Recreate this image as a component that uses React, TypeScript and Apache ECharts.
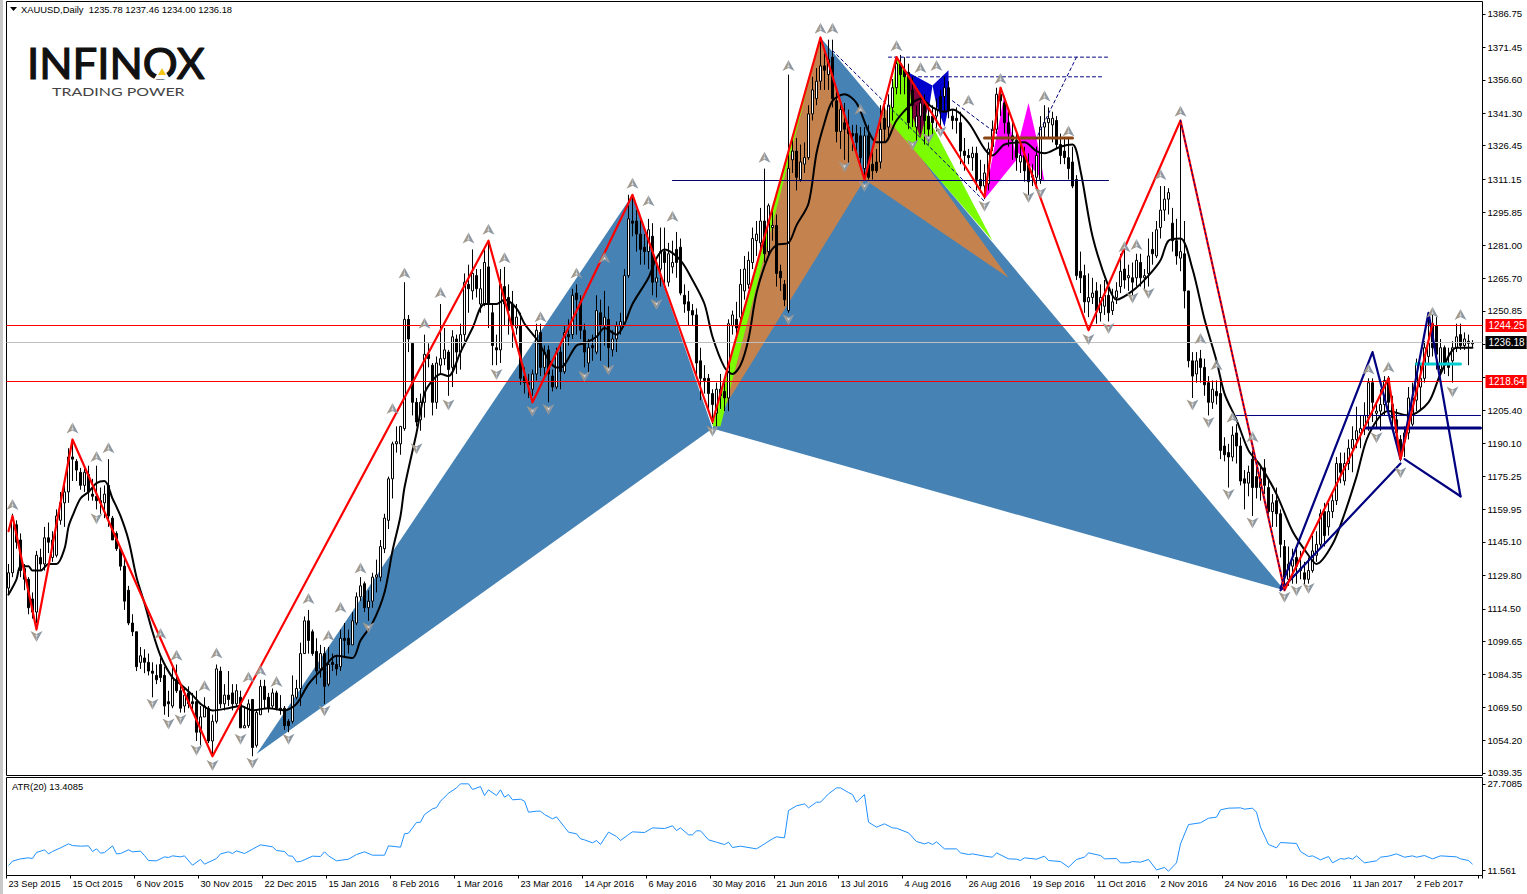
import React, { useEffect, useRef } from "react";
import * as echarts from "echarts";

// candles are [open, close, low, high], one per trading day
const candles2015a = [
[1124,1131,1121,1135],[1131,1156,1129,1158],[1153,1145,1142,1155],[1146,1132,1129,1149],[1133,1128,1123,1135],[1128,1115,1112,1129],[1119,1113,1110,1122],[1113,1139,1108,1141],
[1138,1135,1132,1142],[1135,1147,1132,1152],[1147,1145,1140,1154],[1138,1146,1136,1150],[1139,1157,1138,1160],[1155,1163,1153,1168],[1163,1168,1152,1172],[1168,1184,1163,1188],
[1184,1183,1173,1191],[1182,1178,1173,1183],[1177,1171,1169,1179],[1171,1177,1168,1179],[1176,1168,1164,1180],[1167,1166,1164,1174],[1166,1164,1160,1180],[1164,1163,1158,1170],
[1163,1167,1156,1171],[1171,1157,1152,1183],[1156,1146,1146,1157],[1149,1142,1141,1150],[1142,1134,1132,1143],[1134,1118,1114,1138],[1123,1108,1107,1125],[1108,1104,1102,1112],
[1104,1088,1086,1104],[1090,1093,1087,1097],[1092,1090,1085,1096],[1090,1086,1084,1094],[1086,1085,1074,1090],[1084,1082,1080,1089],[1089,1083,1081,1092],[1084,1070,1066,1088],
[1072,1071,1065,1077],[1070,1083,1069,1088],[1082,1077,1076,1089],[1077,1069,1067,1080],[1070,1075,1067,1078],[1076,1071,1069,1079],[1072,1071,1067,1076],[1072,1058,1054,1077],
[1058,1065,1052,1070],[1065,1070,1065,1074],[1069,1054,1053,1070],[1054,1063,1047,1066],[1063,1087,1062,1089],[1086,1071,1069,1088],[1071,1075,1068,1080],[1075,1073,1070,1086],
[1076,1071,1068,1080],[1071,1077,1070,1080],[1074,1060,1060,1077],[1060,1061,1060,1070],[1061,1071,1060,1073],[1073,1051,1047,1073],[1052,1067,1051,1068],[1066,1079,1066,1082],
];
const candles2016a = [
[1079,1073,1069,1082],[1074,1069,1067,1076],[1070,1076,1069,1078],[1076,1069,1068,1077],[1069,1068,1066,1075],[1069,1061,1059,1070],[1063,1061,1058,1064],[1063,1075,1062,1084],
[1074,1078,1073,1082],[1078,1094,1070,1099],[1094,1109,1094,1111],[1109,1100,1094,1114],[1104,1094,1093,1105],[1095,1086,1080,1101],[1087,1094,1083,1098],[1094,1079,1071,1097],
[1080,1089,1079,1097],[1090,1089,1086,1094],[1089,1087,1084,1093],[1088,1101,1086,1105],[1101,1100,1092,1108],[1101,1098,1094,1105],[1098,1109,1098,1113],[1108,1120,1107,1122],
[1120,1125,1118,1129],[1126,1115,1113,1127],[1115,1118,1109,1123],[1118,1129,1115,1131],[1129,1130,1122,1137],[1129,1143,1127,1146],[1142,1156,1140,1158],[1155,1174,1151,1175],
[1174,1190,1165,1191],[1190,1191,1186,1198],[1190,1198,1185,1198],[1197,1247,1196,1264],[1247,1238,1232,1249],[1236,1209,1203,1236],[1209,1200,1198,1211],[1201,1209,1196,1213],
[1209,1231,1202,1240],[1231,1229,1225,1236],[1226,1209,1203,1227],[1209,1227,1206,1230],[1226,1229,1222,1254],[1229,1233,1226,1243],[1232,1224,1212,1233],[1225,1239,1216,1242],
[1238,1232,1222,1240],[1232,1240,1224,1245],[1240,1264,1237,1268],[1263,1261,1250,1272],
];
const candles2016b = [
[1260,1268,1256,1279],[1267,1261,1257,1270],[1254,1261,1250,1270],[1254,1273,1253,1280],[1271,1254,1243,1283],[1250,1235,1226,1254],[1234,1233,1226,1240],[1233,1263,1227,1270],
[1262,1254,1244,1271],[1257,1251,1240,1263],[1254,1244,1234,1260],[1243,1248,1240,1254],[1244,1220,1217,1250],[1221,1218,1213,1225],[1218,1217,1211,1222],[1215,1222,1212,1224],
[1222,1242,1219,1245],[1241,1225,1221,1245],[1225,1232,1221,1235],[1233,1222,1209,1235],[1221,1216,1214,1224],[1216,1232,1215,1234],[1232,1223,1215,1235],[1223,1241,1222,1244],
[1240,1239,1235,1247],[1240,1258,1238,1261],[1259,1256,1240,1263],[1255,1242,1238,1258],[1242,1232,1225,1245],[1227,1234,1222,1238],[1235,1234,1228,1240],[1232,1251,1231,1258],
[1250,1244,1228,1256],[1244,1248,1235,1260],[1247,1234,1224,1253],[1233,1238,1230,1242],[1238,1244,1232,1246],[1244,1246,1240,1250],[1245,1267,1244,1270],[1267,1293,1266,1304],
[1292,1291,1285,1304],[1292,1286,1278,1297],[1286,1279,1272,1293],[1280,1278,1272,1286],[1278,1288,1270,1293],[1285,1264,1258,1291],[1264,1266,1257,1272],[1270,1278,1262,1289],
[1278,1273,1262,1289],[1264,1277,1262,1282],[1271,1273,1268,1283],[1279,1273,1266,1287],[1280,1259,1258,1284],[1258,1254,1250,1263],[1255,1251,1244,1260],[1251,1249,1244,1254],
[1249,1227,1220,1252],[1228,1220,1210,1234],[1220,1219,1213,1226],[1220,1213,1206,1222],[1213,1208,1199,1215],[1204,1215,1198,1218],[1215,1212,1206,1222],[1214,1211,1205,1220],
[1211,1245,1205,1247],[1244,1249,1240,1251],[1247,1243,1238,1255],[1248,1263,1246,1270],
];
const candles2016c = [
[1260,1270,1256,1276],[1263,1274,1261,1278],[1273,1284,1270,1289],[1283,1286,1276,1292],[1282,1292,1278,1298],[1292,1277,1273,1316],[1278,1299,1276,1300],[1289,1290,1283,1298],
[1290,1268,1262,1295],[1269,1266,1260,1272],[1263,1256,1253,1265],[1251,1316,1250,1359],[1320,1324,1314,1331],[1324,1312,1306,1330],[1311,1319,1310,1327],[1318,1321,1314,1328],
[1321,1341,1320,1345],[1341,1352,1338,1358],[1348,1356,1345,1362],[1356,1363,1352,1376],[1363,1361,1352,1370],[1359,1366,1352,1375],[1367,1348,1344,1375],[1347,1333,1328,1352],
[1333,1343,1325,1347],[1337,1334,1320,1346],[1335,1332,1318,1343],[1332,1331,1324,1336],[1332,1328,1322,1336],[1331,1321,1316,1335],[1316,1331,1312,1335],[1331,1312,1311,1336],
[1318,1315,1311,1326],[1319,1315,1314,1325],[1319,1334,1316,1345],[1339,1334,1328,1345],[1335,1345,1330,1350],[1344,1353,1338,1357],[1353,1364,1350,1367],[1364,1359,1350,1368],
[1361,1358,1350,1367],[1360,1337,1334,1364],[1352,1345,1335,1358],[1335,1340,1328,1345],[1340,1346,1332,1349],[1345,1338,1327,1350],[1340,1334,1327,1345],[1340,1337,1331,1345],
[1340,1343,1333,1348],[1349,1343,1335,1352],[1349,1353,1342,1358],[1353,1343,1339,1356],[1340,1338,1334,1343],[1339,1338,1332,1344],[1337,1324,1318,1342],[1324,1322,1315,1330],
[1322,1321,1318,1325],[1321,1323,1315,1326],[1323,1311,1306,1326],[1311,1308,1305,1320],[1308,1314,1302,1318],[1309,1325,1306,1328],[1326,1334,1324,1338],[1334,1350,1332,1353],
[1350,1347,1340,1352],[1346,1337,1332,1349],[1337,1332,1326,1342],[1331,1329,1320,1337],[1329,1321,1315,1332],[1319,1322,1314,1327],[1322,1315,1310,1326],[1318,1310,1304,1323],
[1312,1313,1308,1318],[1312,1322,1308,1326],[1311,1335,1309,1340],[1335,1337,1330,1345],[1337,1339,1330,1344],[1336,1339,1328,1342],[1338,1327,1325,1340],[1327,1322,1318,1332],
[1324,1321,1318,1330],[1321,1316,1311,1330],[1319,1308,1307,1326],[1311,1267,1265,1313],[1269,1266,1259,1278],[1267,1255,1250,1272],[1255,1257,1248,1268],[1257,1259,1254,1266],
[1260,1251,1245,1264],
];
const candles2016d = [
[1250,1257,1246,1263],[1253,1258,1249,1265],[1258,1250,1246,1263],[1251,1255,1249,1261],[1257,1260,1254,1264],[1262,1269,1259,1277],[1270,1265,1261,1279],[1266,1267,1260,1272],
[1266,1264,1258,1273],[1266,1274,1262,1277],[1273,1266,1262,1277],[1266,1267,1261,1270],[1268,1276,1262,1284],[1279,1277,1272,1287],[1276,1288,1275,1292],[1289,1297,1284,1308],
[1297,1302,1292,1308],[1302,1305,1295,1307],[1291,1283,1278,1298],[1283,1276,1272,1293],[1275,1278,1269,1337],[1277,1260,1252,1292],[1260,1228,1225,1260],[1228,1221,1211,1232],
[1222,1228,1218,1232],[1229,1225,1218,1233],[1225,1217,1212,1229],[1218,1209,1203,1221],[1209,1215,1206,1219],[1214,1212,1208,1219],[1213,1187,1183,1220],[1189,1185,1182,1193],
[1186,1184,1170,1190],[1184,1194,1182,1198],[1195,1189,1181,1199],[1189,1173,1171,1193],[1174,1172,1160,1178],[1172,1177,1166,1180],[1183,1170,1157,1187],[1175,1170,1165,1181],
[1170,1174,1164,1180],[1179,1171,1167,1183],[1170,1159,1156,1174],[1159,1163,1152,1167],[1164,1158,1152,1170],[1158,1144,1138,1160],[1143,1129,1124,1146],
];
const candles2017 = [
[1128,1135,1125,1143],[1134,1137,1126,1142],[1138,1134,1126,1143],[1133,1132,1128,1141],[1131,1128,1125,1136],[1128,1132,1126,1138],[1132,1141,1131,1148],[1139,1144,1136,1150],
[1144,1158,1142,1160],[1159,1148,1143,1163],[1152,1159,1148,1163],[1159,1164,1156,1168],[1164,1181,1162,1184],[1181,1177,1172,1186],[1173,1181,1171,1186],[1181,1188,1178,1192],
[1188,1192,1177,1198],[1192,1196,1188,1207],[1195,1197,1188,1203],[1198,1203,1194,1209],[1202,1218,1196,1220],[1218,1209,1200,1220],[1204,1205,1197,1209],[1205,1208,1196,1215],
[1208,1219,1203,1221],[1220,1209,1205,1221],[1208,1202,1198,1212],[1201,1195,1190,1206],[1192,1186,1182,1194],[1191,1195,1184,1198],[1195,1211,1192,1216],[1199,1211,1198,1218],
[1210,1227,1205,1229],[1216,1220,1205,1226],[1220,1234,1218,1237],[1230,1236,1226,1250],[1245,1234,1230,1249],[1244,1231,1224,1248],[1224,1234,1222,1238],[1234,1226,1222,1235],
[1227,1225,1221,1234],[1228,1234,1218,1237],[1234,1239,1232,1245],[1240,1235,1233,1245],[1235,1238,1233,1241],[1237,1236,1226,1240],[1235.78,1236.18,1234,1237.46],
];

// black moving average, [bar, price]
const movingAverage = [
[0,1121],[2,1128],[3,1134],[5,1134],[6,1132],[8,1132],[10,1135],[12,1135],[14,1142],[15,1152],[16,1157],[18,1165],[20,1168],[22,1172],[24,1173],[26,1165],[28,1157],[30,1146],[32,1129],[34,1117],[36,1104],[38,1093],[41,1083],[43,1080],[46,1075],[48,1071],[51,1068],[55,1069],[58,1070],[61,1068],[65,1069],[69,1068],[72,1071],[75,1080],[79,1088],[82,1093],[86,1092],[88,1100],[91,1108],[94,1122],[96,1141],[98,1157],[99,1170],[102,1195],[104,1213],[106,1219],[108,1222],[110,1221],[113,1232],[116,1243],[119,1254],[122,1254],[124,1256],[127,1252],[129,1245],[132,1238],[137,1225],[138,1225],[142,1235],[144,1236],[147,1239],[149,1243],[152,1240],[154,1245],[156,1254],[160,1266],[162,1275],[164,1279],[168,1274],[171,1265],[174,1254],[176,1239],[179,1225],[181,1222],[183,1226],[185,1238],[187,1259],[190,1276],[192,1281],[195,1282],[197,1290],[200,1300],[202,1323],[204,1337],[206,1347],[209,1350],[212,1346],[215,1333],[217,1328],[219,1328],[222,1338],[226,1346],[228,1348],[231,1344],[234,1342],[236,1343],[240,1337],[244,1325],[246,1322],[249,1327],[254,1328],[257,1324],[259,1323],[263,1326],[266,1327],[268,1315],[271,1285],[275,1262],[277,1256],[281,1260],[285,1267],[288,1274],[290,1283],[293,1284],[296,1270],[299,1247],[302,1228],[304,1213],[307,1201],[310,1187],[313,1180],[317,1167],[321,1150],[325,1139],[327,1135],[331,1144],[334,1158],[337,1175],[340,1194],[345,1205],[350,1203],[355,1209],[358,1222],[362,1234],[366,1234],
];

// red zigzag pivots
const zigzagA = [[0,1150],[1,1157],[7,1105],[16,1192],[51,1047],[120,1283],[131,1209],[156,1304],[176,1200],[203,1376],[214,1311],[222,1367],[244,1303],[248,1353],[270,1242],[293,1338],[319,1123],[345,1220],[348,1183],[356,1245]];
const zigzagDashed = [[293,1338],[319,1123]];

// filled harmonic patterns
const steelXAB = [[62,1048],[156,1304],[176,1197]];
const steelBCD = [[176,1197],[203,1376],[319,1123]];
const brownLeft = [[176,1198],[203,1376],[214,1311]];
const brownRight = [[214,1311],[219,1344],[250,1266]];
const limeSliver = [[176,1198],[203,1376],[178,1198]];
const limeMain = [[222,1367],[220,1338],[246,1283]];
const blueWingLeft = [[224,1361],[231,1354],[230,1342],[228,1350],[226,1355]];
const blueWingRight = [[231,1354],[235,1361],[235,1344],[234,1335],[232,1345]];
const maroonWing = [[225,1359],[226,1340],[228,1330],[230,1345]];
const magentaLeft = [[244,1302],[249,1350],[252,1320]];
const magentaRight = [[255,1346],[252,1324],[259,1310],[257,1330]];

// navy pattern lines
const navyMain = [[318,1124],[341,1232],[348,1183],[355,1250],[363,1166]];
const navyBase = [[318,1123],[348,1181]];
const navyTail = [[349,1183],[363,1166]];
const dashedDiagonalA = [[206,1370],[244,1301]];
const dashedDiagonalB = [[236,1347],[247,1332]];
const dashedTop = [[220,1367],[275,1367]];
const dashedSecond = [[226,1358],[274,1358]];
const dashedRise = [[267,1367],[257,1330]];

// horizontal levels
const blueLevel = [[166,1310.54],[275,1310.54]];
const brownLevel = [[244,1330],[266,1330]];
const cyanLevel = [[352,1226.6],[363,1226.6]];
const navyThick = [[339,1197.2],[368,1197.2]];
const navyThin = [[307,1202.98],[368,1202.98]];
const redLevels = [1244.25, 1218.64];
const bidLevel = 1236.18;

// fractal arrows, [bar, price]
const fractalUp = [[1,1162],[16,1197],[22,1184],[25,1188],[38,1103],[42,1093],[52,1094],[49,1079],[60,1083],[63,1086],[67,1081],[75,1119],[83,1115],[80,1102],[88,1133],[99,1268],[108,1259],[104,1245],[96,1206],[115,1284],[120,1288],[124,1275],[133,1248],[142,1268],[149,1275],[156,1309],[160,1301],[166,1294],[203,1380],[206,1380],[195,1363],[189,1321],[222,1372],[228,1362],[232,1363],[240,1347],[248,1357],[259,1349],[265,1333],[213,1343],[293,1342],[279,1280],[282,1281],[288,1313],[298,1238],[302,1226],[306,1202],[311,1193],[340,1224],[345,1225],[356,1250],[363,1249]];
const fractalDown = [[7,1102],[22,1156],[36,1071],[40,1062],[43,1064],[47,1050],[51,1043],[58,1055],[61,1044],[70,1055],[79,1068],[90,1106],[102,1188],[110,1208],[122,1222],[131,1205],[135,1206],[144,1221],[150,1224],[162,1254],[176,1196],[195,1247],[209,1317],[214,1308],[226,1327],[230,1330],[233,1333],[244,1299],[255,1303],[258,1305],[270,1238],[275,1243],[281,1257],[285,1259],[296,1208],[300,1200],[305,1167],[311,1154],[319,1120],[322,1123],[325,1124],[342,1193],[348,1177],[361,1214]];

// ATR(20), [bar, value]
const atr2015 = [[0,12.49],[1,13.3],[3,13.73],[5,13.92],[6,13.79],[7,14.91],[9,15.41],[10,14.66],[11,15.1],[13,15.78],[15,16.52],[16,16.21],[18,16.09],[20,16.15],[21,15.1],[22,15.59],[23,14.79],[24,14.91],[26,16.15],[27,14.66],[28,14.72],[30,15.41],[31,15.04],[33,15.16],[34,14.35],[35,13.42],[37,13.36],[39,14.1],[40,13.98],[41,14.29],[43,14.1],[44,14.29],[46,12.55],[48,13.61],[49,12.74],[52,13.79],[53,14.66],[55,15.04],[56,14.72],[57,15.22],[59,14.72],[61,15.53],[63,16.34],[66,15.97],[67,15.28],[69,15.1],[70,14.29],[71,14.23],[72,13.17],[73,13.23],[76,14.23],[78,14.17],[79,15.04],[80,14.29],[82,13.36],[85,13.67],[87,14.54],[89,15.04],[91,14.41],[94,14.41]];
const atr2016a = [[95,16.15],[98,15.9],[99,18.39],[100,18.51],[102,20.5],[103,20.56],[104,21.99],[106,23.04],[107,23.29],[108,24.47],[110,25.96],[112,26.95],[113,27.7],[115,27.7],[116,26.64],[118,27.2],[119,25.52],[120,26.58],[122,25.52],[123,26.58],[124,25.21],[125,25.71],[126,24.72],[128,24.84],[129,24.47],[130,22.42],[132,22.61],[133,22.61],[134,21.99],[136,21.18],[137,21.55],[140,18.7],[142,18.39],[143,17.46],[144,17.27],[146,16.71],[147,17.15],[148,16.4],[150,18.7],[152,17.89],[153,17.15],[155,18.26],[156,18.76],[159,18.63],[161,19.5],[164,19.38],[166,19.88],[167,19.01],[168,19.5],[170,18.2],[171,18.2],[172,18.95],[173,18.95],[175,17.27],[177,16.83],[179,16.4],[180,16.83],[181,15.84],[183,16.09],[187,15.59],[189,16.52]];
const atr2016b = [[191,17.46],[192,17.83],[194,17.64],[195,22.73],[197,23.6],[199,23.97],[200,23.23],[202,24.28],[203,24.28],[205,25.83],[207,26.95],[208,26.95],[210,26.08],[211,25.71],[212,24.28],[214,25.71],[215,20.56],[217,19.63],[219,20.25],[221,19.5],[222,19.44],[225,18.57],[227,16.96],[229,16.52],[230,16.77],[231,16.4],[232,16.9],[234,15.59],[237,15.59],[238,14.85],[240,14.54],[241,14.66],[244,14.23],[246,14.04],[247,14.85],[250,13.73],[252,13.67],[253,13.42],[254,13.92],[257,13.67],[259,14.23],[260,13.42],[263,13.23],[265,12.18],[267,13.61],[269,14.04],[270,14.85],[273,14.35],[274,13.73],[277,13.79],[278,12.99],[280,12.99],[281,13.23],[283,13.11],[285,13.61],[287,11.68],[289,12.12],[290,11.43],[292,12.99],[293,16.52],[295,20.12],[298,20.44],[300,21.3],[302,21.49],[303,22.86],[305,23.17],[308,23.23],[309,22.98],[311,23.17],[312,22.42],[313,19.63],[315,16.4],[317,15.78],[318,16.77]];
const atr2017 = [[322,16.59],[323,15.1],[325,14.17],[326,14.29],[328,13.55],[330,14.17],[331,12.99],[333,13.79],[334,13.67],[335,13.92],[336,13.67],[337,14.29],[339,12.99],[340,13.11],[342,13.36],[343,14.04],[345,14.23],[347,14.66],[349,14.04],[351,14.29],[352,14.04],[354,14.35],[356,13.73],[358,14.29],[362,14.1],[363,13.73],[365,13.42],[366,12.74]];

// axes
const priceTicks = [1386.75,1371.45,1356.60,1341.30,1326.45,1311.15,1295.85,1281.00,1265.70,1250.85,1205.40,1190.10,1175.25,1159.95,1145.10,1129.80,1114.50,1099.65,1084.35,1069.50,1054.20,1039.35];
const hiddenPriceTicks = [1235.70, 1220.55];
const atrTicks = [27.7085, 11.561];
const dateLabels = ["23 Sep 2015","15 Oct 2015","6 Nov 2015","30 Nov 2015","22 Dec 2015","15 Jan 2016","8 Feb 2016","1 Mar 2016","23 Mar 2016","14 Apr 2016","6 May 2016","30 May 2016","21 Jun 2016","13 Jul 2016","4 Aug 2016","26 Aug 2016","19 Sep 2016","11 Oct 2016","2 Nov 2016","24 Nov 2016","16 Dec 2016","11 Jan 2017","2 Feb 2017"];
const barsPerLabel = 16;
const slotCount = 369;

const FONT = '"Liberation Sans", Arial, sans-serif';

function polygonSeries(points: number[][], color: string, z: number) {
  return {
    type: "custom",
    coordinateSystem: "cartesian2d",
    silent: true,
    z,
    data: [points[0]],
    encode: { x: 0, y: 1 },
    renderItem: (_p: any, api: any) => ({
      type: "polygon",
      shape: { points: points.map((pt) => api.coord(pt)) },
      style: { fill: color },
    }),
  };
}

function lineSeries(points: number[][], color: string, width: number, z: number, dash?: number[], smooth?: number) {
  return {
    type: "line",
    data: points,
    showSymbol: false,
    silent: true,
    z,
    smooth: smooth || false,
    lineStyle: { color, width, type: dash || "solid", cap: "round", join: "round" },
  };
}

// a full-width horizontal level across the price grid, with its tag on the axis
function levelSeries(value: number, color: string, tagColor: string) {
  return {
    type: "custom",
    coordinateSystem: "cartesian2d",
    silent: true,
    z: 6,
    data: [[0, value]],
    encode: { x: 0, y: 1 },
    renderItem: (params: any, api: any) => {
      const y = Math.floor(api.coord([0, value])[1]);
      const { x, width } = params.coordSys;
      return {
        type: "group",
        children: [
          { type: "rect", shape: { x, y, width, height: 1 }, style: { fill: color } },
          {
            type: "text",
            x: x + width + 3,
            y: y + 0.5,
            style: {
              text: value.toFixed(2),
              fill: "#ffffff",
              backgroundColor: tagColor,
              padding: [2, 2, 1, 3],
              font: `10px ${FONT}`,
              verticalAlign: "middle",
            },
          },
        ],
      };
    },
  };
}

function arrowSeries(points: number[][], up: boolean) {
  const s = up ? 1 : -1;
  return {
    type: "custom",
    coordinateSystem: "cartesian2d",
    silent: true,
    z: 9,
    data: points,
    encode: { x: 0, y: 1 },
    renderItem: (_p: any, api: any) => {
      const [cx, cy] = api.coord([api.value(0), api.value(1)]);
      return {
        type: "group",
        children: [
          { type: "polygon", shape: { points: [[cx, cy - 6 * s], [cx - 6, cy + 5 * s], [cx, cy + 2 * s]] }, style: { fill: "#a39a8e" } },
          { type: "polygon", shape: { points: [[cx, cy - 6 * s], [cx + 6, cy + 5 * s], [cx, cy + 2 * s]] }, style: { fill: "#8e98a3" } },
          { type: "polygon", shape: { points: [[cx, cy - 1.5 * s], [cx - 1.5, cy + 1.5 * s], [cx, cy + 0.8 * s], [cx + 1.5, cy + 1.5 * s]] }, style: { fill: "#dedede" } },
        ],
      };
    },
  };
}

export default function App() {
  const ref = useRef<HTMLDivElement>(null);
  useEffect(() => {
    document.body.style.margin = "0";
    const chart = echarts.init(ref.current!, undefined, { renderer: "svg" });
    const cats = Array.from({ length: slotCount }, (_, i) => String(i));
    const candles = [...candles2015a, ...candles2016a, ...candles2016b, ...candles2016c, ...candles2016d, ...candles2017];
    const atr = [...atr2015, ...atr2016a, ...atr2016b, ...atr2017];
    const xBase = { type: "category", data: cats, boundaryGap: true };

    chart.setOption({
      animation: false,
      backgroundColor: "#ffffff",
      textStyle: { fontFamily: FONT },
      grid: [
        { left: 6.5, top: 1.5, width: 1476, height: 774, show: true, borderColor: "#000", borderWidth: 1, backgroundColor: "#fff" },
        { left: 6.5, top: 777.5, width: 1476, height: 98, show: true, borderColor: "#000", borderWidth: 1, backgroundColor: "#fff" },
      ],
      xAxis: [
        { ...xBase, gridIndex: 0, axisLine: { show: false }, axisTick: { show: false }, axisLabel: { show: false } },
        {
          ...xBase,
          gridIndex: 1,
          axisLine: { show: false },
          axisTick: { show: true, length: 3, lineStyle: { color: "#000" }, interval: (i: number) => i % barsPerLabel === 0 },
          axisLabel: {
            show: true,
            color: "#000",
            fontSize: 9.2,
            fontFamily: FONT,
            align: "left",
            margin: 4,
            hideOverlap: false,
            interval: (i: number) => i % barsPerLabel === 0 && i / barsPerLabel < dateLabels.length,
            formatter: (_v: string, i: number) => dateLabels[i / barsPerLabel] || "",
          },
        },
      ],
      yAxis: [
        {
          type: "value",
          gridIndex: 0,
          position: "right",
          min: 1038.2,
          max: 1392.47,
          scale: true,
          splitLine: { show: false },
          axisLine: { show: false },
          axisTick: { show: true, length: 3, lineStyle: { color: "#000" }, customValues: [...priceTicks, ...hiddenPriceTicks] },
          axisLabel: { show: true, color: "#000", fontSize: 9.6, fontFamily: FONT, margin: 5, customValues: priceTicks, formatter: (v: number) => v.toFixed(2) },
        },
        {
          type: "value",
          gridIndex: 1,
          position: "right",
          min: 10.63,
          max: 28.88,
          scale: true,
          splitLine: { show: false },
          axisLine: { show: false },
          axisTick: { show: true, length: 3, lineStyle: { color: "#000" }, customValues: atrTicks },
          axisLabel: { show: true, color: "#000", fontSize: 9.6, fontFamily: FONT, margin: 5, customValues: atrTicks, formatter: (v: number) => String(v) },
        },
      ],
      series: [
        polygonSeries(steelXAB, "#4682b4", 1),
        polygonSeries(steelBCD, "#4682b4", 1),
        polygonSeries(brownLeft, "#c4834e", 2),
        polygonSeries(brownRight, "#c4834e", 2),
        polygonSeries(limeSliver, "#7cfc00", 2),
        polygonSeries(limeMain, "#7cfc00", 2),
        polygonSeries(blueWingLeft, "#0000cd", 2),
        polygonSeries(blueWingRight, "#0000cd", 2),
        polygonSeries(maroonWing, "#800040", 2),
        polygonSeries(magentaLeft, "#ff00ff", 2),
        polygonSeries(magentaRight, "#ff00ff", 2),
        {
          type: "candlestick",
          data: candles,
          barWidth: 2,
          z: 4,
          silent: true,
          itemStyle: { color: "#ffffff", color0: "#000000", borderColor: "#000000", borderColor0: "#000000", borderWidth: 1 },
        },
        levelSeries(bidLevel, "#c0c0c0", "#000000"),
        ...redLevels.map((v) => levelSeries(v, "#ff0000", "#ff0000")),
        lineSeries(movingAverage, "#000000", 2, 5, undefined, 0.3),
        lineSeries(blueLevel, "#00006a", 1, 5),
        lineSeries(navyThin, "#000080", 1, 5),
        lineSeries(navyThick, "#000080", 3, 5),
        lineSeries(brownLevel, "#8b4513", 3, 5),
        lineSeries(cyanLevel, "#00ced1", 3, 5),
        lineSeries(dashedDiagonalA, "#000080", 1, 6, [3, 3]),
        lineSeries(dashedDiagonalB, "#000080", 1, 6, [3, 3]),
        lineSeries(dashedTop, "#000080", 1, 6, [3, 3]),
        lineSeries(dashedSecond, "#000080", 1, 6, [3, 3]),
        lineSeries(dashedRise, "#000080", 1, 6, [3, 3]),
        lineSeries(navyMain, "#000080", 2.2, 7),
        lineSeries(navyBase, "#000080", 2.2, 7),
        lineSeries(navyTail, "#000080", 2.2, 7),
        lineSeries(zigzagA, "#ff0000", 2.2, 8),
        lineSeries(zigzagDashed, "#000080", 1, 8, [2, 3]),
        arrowSeries(fractalUp, true),
        arrowSeries(fractalDown, false),
        {
          type: "line",
          xAxisIndex: 1,
          yAxisIndex: 1,
          data: atr,
          showSymbol: false,
          silent: true,
          lineStyle: { color: "#1e90ff", width: 1 },
        },
      ],
      graphic: [
        { type: "rect", shape: { x: 0, y: 0, width: 3, height: 894 }, style: { fill: "#c8c8c8" }, silent: true },
        { type: "polygon", shape: { points: [[10, 7], [17, 7], [13.5, 11]] }, style: { fill: "#000" }, silent: true },
        { type: "text", x: 21, y: 4.5, style: { text: "XAUUSD,Daily  1235.78 1237.46 1234.00 1236.18", font: `9.4px ${FONT}`, fill: "#000" }, silent: true },
        { type: "text", x: 12, y: 781.5, style: { text: "ATR(20) 13.4085", font: `9.4px ${FONT}`, fill: "#000" }, silent: true },
        { type: "text", x: 27, y: 42, scaleX: 1.04, style: { text: "INFINOX", font: '42px Lato, "Open Sans", sans-serif', fill: "#111111", stroke: "#111111", lineWidth: 1.2 }, silent: true },
        { type: "polygon", shape: { points: [[154, 79], [162, 66], [170, 79]] }, style: { fill: "#ffffff" }, silent: true },
        { type: "polygon", shape: { points: [[158, 75], [162, 68], [166, 75]] }, style: { fill: "#f5c518" }, silent: true },
        { type: "text", x: 52, y: 85, scaleX: 1.33, style: { text: "TRADING POWER", font: '12px Lato, "Open Sans", sans-serif', fill: "#444444" }, silent: true },
      ],
    });
    return () => chart.dispose();
  }, []);
  return <div ref={ref} style={{ position: "fixed", left: 0, top: 0, width: 1527, height: 894 }} />;
}
